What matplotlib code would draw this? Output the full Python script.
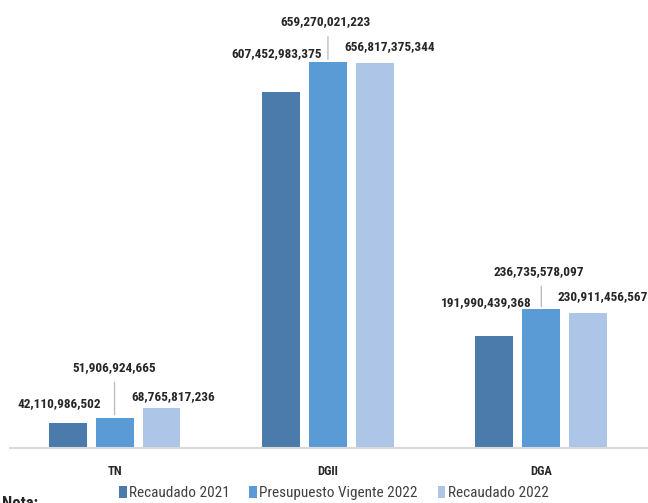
import matplotlib
matplotlib.use("Agg")
import matplotlib.pyplot as plt
from matplotlib.patches import Patch
import numpy as np

plt.rcParams['font.family'] = ['Roboto Condensed', 'DejaVu Sans']

categories = ["TN", "DGII", "DGA"]
series_names = ["Recaudado 2021", "Presupuesto Vigente 2022", "Recaudado 2022"]
recaudado_2021 = [42110986502, 607452983375, 191990439368]
presupuesto_2022 = [51906924665, 659270021223, 236735578097]
recaudado_2022 = [68765817236, 656817375344, 230911456567]
colors = ["#4a7bab", "#5b9bd5", "#adc5e6"]

# label offsets (pixels) relative to bar top center
label_offsets = [
    [(-8, 20), (0, 50), (12, 11)],
    [(-4, 39), (-2, 40), (15, 17)],
    [(-8, 33), (-2, 38), (14, 16)],
]

fig = plt.figure(figsize=(6.48, 5.03), dpi=100)
ax = fig.add_axes([10/648, 55/503, 638/648, 443/503])

series = [recaudado_2021, presupuesto_2022, recaudado_2022]
x = np.arange(len(categories))
width = 0.178
step = 0.22
for i, (vals, c) in enumerate(zip(series, colors)):
    xs = x + (i - 1) * step
    ax.bar(xs, vals, width=width, color=c, zorder=2)
    for j, (xx, v) in enumerate(zip(xs, vals)):
        dx, dy = label_offsets[j][i]
        ax.annotate(f"{v:,}", xy=(xx, v), xytext=(dx, dy), textcoords='offset pixels',
                    ha='center', va='center', fontsize=9.5, fontweight='bold',
                    color='#262626', annotation_clip=False)
        if i == 1:
            ax.annotate("", xy=(xx, v), xytext=(0, dy - 12), textcoords='offset pixels',
                        arrowprops=dict(arrowstyle='-', color='#bfbfbf', lw=1))

ax.set_xlim(-0.49, 2.5)
ax.set_ylim(0, 756.6e9)
for s in ['top', 'right', 'left']:
    ax.spines[s].set_visible(False)
ax.spines['bottom'].set_color('#d9d9d9')
ax.spines['bottom'].set_linewidth(1.5)
ax.set_yticks([])
ax.set_xticks(x)
ax.set_xticklabels(categories, fontsize=9, fontweight='bold', color='#262626')
ax.tick_params(axis='x', length=0, pad=12)

handles = [Patch(facecolor=c, edgecolor='none') for c in colors]
fig.legend(handles, series_names, loc='center', bbox_to_anchor=(0.515, 0.02), ncol=3,
           frameon=False, fontsize=11, handlelength=0.5, handleheight=0.8,
           handletextpad=0.15, columnspacing=1.3, labelcolor='#404040')

fig.text(0.003, 0.014, "Nota:", fontsize=12, fontweight='bold', va='top', ha='left', color='#262626')

fig.savefig("out.png", dpi=100)
